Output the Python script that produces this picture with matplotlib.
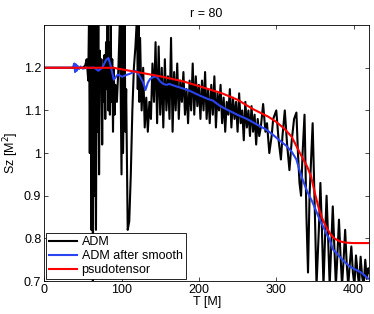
import numpy as np
import matplotlib
matplotlib.use("Agg")
import matplotlib.pyplot as plt

plt.rcParams['font.family'] = ['Liberation Sans', 'DejaVu Sans']
plt.rcParams['font.size'] = 9

# psudotensor
t_pseudo = [0, 90, 95, 120, 150, 180, 200, 230, 250, 270, 290, 300, 310, 320, 330,
            340, 345, 350, 355, 360, 365, 370, 375, 382, 390, 400, 420]
s_pseudo = [1.2, 1.2, 1.198, 1.19, 1.18, 1.168, 1.157, 1.14, 1.125, 1.103, 1.085, 1.073,
            1.058, 1.038, 1.002, 0.968, 0.945, 0.905, 0.87, 0.844, 0.825, 0.81, 0.8,
            0.793, 0.79, 0.789, 0.789]

# ADM after smooth
t_smooth = [0, 37, 39, 40, 41, 42, 43, 45, 47, 50, 55, 65, 70, 75, 80, 83, 86, 90, 95,
            101, 106, 111, 116, 119, 124, 128, 131, 134, 137, 141, 145, 150, 154, 158,
            162, 168, 175, 182, 188, 195, 201, 210, 218, 227, 235, 244, 253, 262, 270,
            278, 287, 295, 304, 313, 320, 326, 330, 334, 340, 347, 352, 356, 360, 365,
            369, 373, 378, 382, 388, 395, 401, 408, 413, 418, 420]
s_smooth = [1.2, 1.2, 1.21, 1.19, 1.208, 1.193, 1.205, 1.197, 1.203, 1.198, 1.2, 1.2,
            1.193, 1.2, 1.218, 1.223, 1.205, 1.172, 1.184, 1.179, 1.183, 1.186, 1.19,
            1.193, 1.179, 1.165, 1.148, 1.165, 1.174, 1.178, 1.18, 1.168, 1.162, 1.16,
            1.162, 1.158, 1.154, 1.15, 1.146, 1.14, 1.135, 1.128, 1.123, 1.111, 1.103,
            1.095, 1.087, 1.08, 1.072, 1.064, 1.055, 1.044, 1.03, 1.017, 1.003, 0.985,
            0.96, 0.938, 0.91, 0.884, 0.862, 0.844, 0.83, 0.81, 0.797, 0.775, 0.765,
            0.757, 0.745, 0.734, 0.728, 0.722, 0.715, 0.707, 0.705]

# ADM (raw)
t_adm = [0, 50, 53, 55, 57, 58, 59, 60, 61, 62, 63, 64, 65, 66, 67, 68, 69, 70, 71,
         72, 73, 74, 75, 76, 77, 78, 79, 80, 81, 82, 83, 84, 85, 86, 87, 88, 89, 90,
         91, 92, 94, 96, 98, 100, 101, 102, 104, 105, 106, 108, 110, 112, 114, 116,
         118, 120, 121, 122, 123,
         124, 126, 128, 130, 132, 134, 136, 138, 140, 142, 144, 146, 148, 150, 152,
         154, 156, 158, 160, 162, 164, 166, 168, 170, 172, 174, 176, 178, 180, 182,
         184, 186, 188, 190, 192, 194, 196, 198, 200, 202, 204, 206, 208, 210, 212,
         214, 216, 218, 220, 222, 224, 226, 228, 230, 232, 234, 236, 238, 240, 242,
         244, 246, 248, 250, 252, 254, 256, 258, 260, 262, 264, 266, 268, 270, 272,
         274, 276, 278, 280, 283, 286, 288, 291, 294, 296, 300, 303, 306, 308, 311,
         314, 317, 320, 323, 326, 328, 330, 332, 334, 336.5, 339, 341, 343, 347, 350,
         352, 355, 357, 359, 361, 363, 365, 367, 369, 371, 373, 375, 377, 379, 381,
         383, 385, 387, 389, 391, 393, 395, 397, 399, 401, 403, 405, 407, 409, 411,
         413, 415, 417, 419, 420]
s_adm = [1.2, 1.2, 1.205, 1.22, 1.17, 1.32, 1.0, 1.32, 0.82, 1.32, 0.68, 1.32, 0.9,
         1.32, 0.82, 1.3, 1.05, 1.32, 0.95, 1.24, 1.15, 1.22, 1.02, 1.2, 1.12, 1.23,
         1.08, 1.26, 1.15, 1.32, 1.1, 1.26, 1.09, 1.32, 1.12, 1.22, 1.05, 1.2, 1.09,
         1.16, 1.12, 1.2, 1.32, 0.95, 1.32, 1.0, 1.32, 1.05, 1.15, 0.82, 0.84, 0.95,
         1.1, 1.2, 1.25, 1.32, 1.15, 1.3, 1.12,
         1.27, 1.10, 1.20, 1.06, 1.13, 1.05, 1.12, 1.08, 1.21, 1.12, 1.26, 1.07, 1.25,
         1.09, 1.20, 1.06, 1.22, 1.10, 1.18, 1.08, 1.27, 1.05, 1.19, 1.10, 1.21, 1.08,
         1.17, 1.12, 1.19, 1.09, 1.15, 1.07, 1.17, 1.10, 1.21, 1.09, 1.18, 1.11, 1.16,
         1.08, 1.17, 1.10, 1.19, 1.08, 1.15, 1.07, 1.16, 1.09, 1.18, 1.06, 1.14, 1.10,
         1.16, 1.07, 1.13, 1.05, 1.12, 1.09, 1.15, 1.06, 1.13, 1.08, 1.12, 1.05, 1.14,
         1.07, 1.10, 1.03, 1.12, 1.06, 1.10, 1.04, 1.11, 1.05, 1.09, 1.02, 1.08, 1.04,
         1.06, 1.115, 1.05, 1.07, 1.00, 1.04, 1.08, 1.10, 1.03, 0.985, 1.04, 1.10, 1.02,
         0.96, 1.03, 1.08, 1.095, 1.0, 0.93, 0.9, 1.0, 1.09, 0.85, 0.72, 0.9, 1.07,
         0.85, 0.69, 0.82, 0.93, 0.82, 0.69, 0.8, 0.9, 0.8, 0.69, 0.78, 0.875, 0.78,
         0.69, 0.76, 0.844, 0.76, 0.69, 0.75, 0.82, 0.74, 0.69, 0.74, 0.781, 0.72, 0.69,
         0.76, 0.72, 0.69, 0.757, 0.71, 0.69, 0.75, 0.705, 0.73, 0.72]

fig = plt.figure(figsize=(3.74, 3.14), dpi=100)
ax = fig.add_axes([0.118, 0.105, 0.869, 0.815])

ax.plot(t_adm, s_adm, color='black', lw=1.5, label='ADM')
ax.plot(t_smooth, s_smooth, color='#2a45f0', lw=1.5, label='ADM after smooth')
ax.plot(t_pseudo, s_pseudo, color='red', lw=1.5, label='psudotensor')

ax.set_xlim(0, 420)
ax.set_ylim(0.7, 1.3)
ax.set_xticks([0, 100, 200, 300, 400])
ax.set_yticks([0.7, 0.8, 0.9, 1.0, 1.1, 1.2])
ax.set_yticklabels(['0.7', '0.8', '0.9', '1', '1.1', '1.2'])
ax.tick_params(direction='in', top=True, right=True, length=3, width=0.5, pad=2)
for sp in ax.spines.values():
    sp.set_linewidth(0.6)

ax.set_title('r = 80', fontsize=9, pad=6)
ax.set_xlabel('T [M]', labelpad=0)
ax.set_ylabel('Sz [M$^2$]', labelpad=2)

leg = ax.legend(loc='lower left', fancybox=False, edgecolor='black', framealpha=1,
                borderaxespad=0.15, handlelength=2.2, handletextpad=0.4,
                labelspacing=0.15, borderpad=0.25, fontsize=9)
leg.get_frame().set_linewidth(0.6)

fig.savefig('out.png', dpi=100)
